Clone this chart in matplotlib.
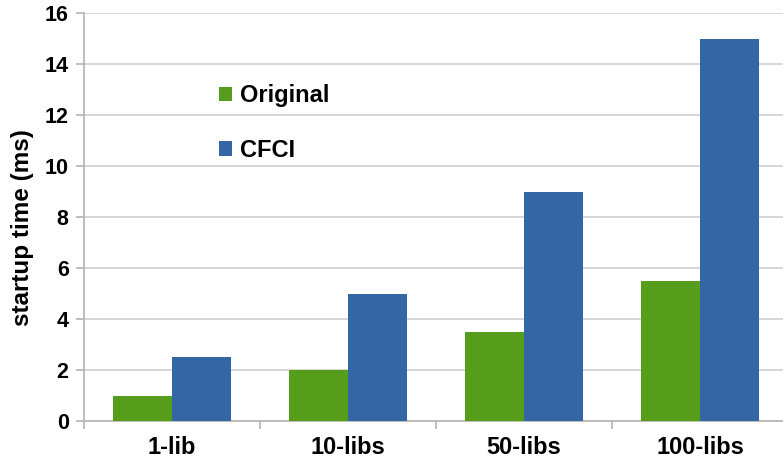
import matplotlib.pyplot as plt
import matplotlib
import numpy as np

categories = ["1-lib", "10-libs", "50-libs", "100-libs"]
original = [1.0, 2.0, 3.5, 5.5]
cfci = [2.5, 5.0, 9.0, 15.0]

matplotlib.rc('font', family=['Liberation Sans', 'DejaVu Sans'], weight='bold')

fig = plt.figure(figsize=(7.83, 4.59), dpi=100)
ax = fig.add_axes([84 / 783, 38 / 459, 704 / 783, 408 / 459])

x = np.arange(len(categories))
w = 0.335
ax.bar(x - w / 2, original, w, color='#579d1c', label='Original', zorder=3)
ax.bar(x + w / 2, cfci, w, color='#3465a4', label='CFCI', zorder=3)

ax.set_xlim(-0.5, 3.5)
ax.set_ylim(0, 16)
ax.set_yticks(range(0, 17, 2))
ax.yaxis.grid(True, color='#d0d0d0', linewidth=1.2, zorder=0)
ax.set_axisbelow(True)

ax.set_xticks(x)
ax.set_xticklabels(categories, fontsize=17, fontweight='bold')
ax.set_xticks(np.arange(-0.5, 4, 1), minor=True)
ax.tick_params(axis='x', which='major', length=0, pad=11)
ax.tick_params(axis='x', which='minor', length=6, color='#b3b3b3', width=1.2)
ax.tick_params(axis='y', length=6, color='#b3b3b3', width=1.2, labelsize=15.5, pad=5)
for lab in ax.get_yticklabels():
    lab.set_fontweight('bold')

for s in ['top', 'right']:
    ax.spines[s].set_visible(False)
for s in ['left', 'bottom']:
    ax.spines[s].set_color('#b3b3b3')
    ax.spines[s].set_linewidth(1.2)

ax.set_ylabel("startup time (ms)", fontsize=17.5, fontweight='bold')
ax.yaxis.set_label_coords(-0.071, 0.473)

ax.legend(loc='upper left', bbox_to_anchor=(219 / 783, 1 - 84 / 459),
          bbox_transform=fig.transFigure, frameon=False,
          handlelength=0.55, handleheight=0.55, handletextpad=0.35,
          labelspacing=1.35, borderpad=0, borderaxespad=0,
          prop={'weight': 'bold', 'size': 17})

fig.savefig("out.png", dpi=100)
